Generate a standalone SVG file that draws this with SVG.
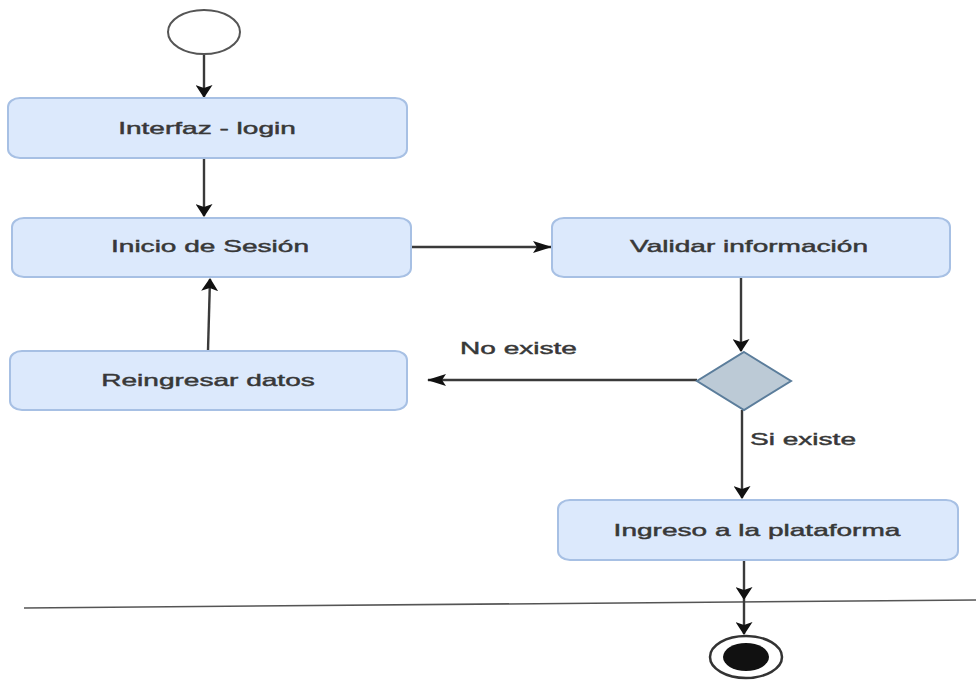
<svg xmlns="http://www.w3.org/2000/svg" width="976" height="680" viewBox="0 0 976 680">
  <style>
    .act { fill: #dce9fc; stroke: #a7c0e4; stroke-width: 2; }
    .lbl { font-family: "Liberation Sans", Arial, sans-serif; font-size: 17px; fill: #383838; stroke: #383838; stroke-width: 0.45; text-anchor: middle; }
    .edge-lbl { font-family: "Liberation Sans", Arial, sans-serif; font-size: 17px; fill: #383838; stroke: #383838; stroke-width: 0.45; }
    .flow { fill: none; stroke: #3a3a3a; stroke-width: 2.4; }
  </style>
  <defs>
    <marker id="arrV" markerUnits="userSpaceOnUse" viewBox="0 0 13 17" markerWidth="13" markerHeight="17" refX="12" refY="8.5" orient="auto">
      <path d="M0,0 L13,8.5 L0,17 L3,8.5 z" fill="#111"/>
    </marker>
    <marker id="arrH" markerUnits="userSpaceOnUse" viewBox="0 0 19 12" markerWidth="19" markerHeight="12" refX="18" refY="6" orient="auto">
      <path d="M0,0 L19,6 L0,12 L4,6 z" fill="#111"/>
    </marker>
  </defs>

  <rect width="976" height="680" fill="#ffffff"/>

  <!-- separator rule -->
  <line x1="24" y1="608" x2="976" y2="600" stroke="#555" stroke-width="1.6"/>

  <!-- connectors -->
  <g id="connectors">
    <path class="flow" d="M204,55 L204,97" marker-end="url(#arrV)"/>
    <path class="flow" d="M204,159 L204,216" marker-end="url(#arrV)"/>
    <path class="flow" d="M412,247 L551,247" marker-end="url(#arrH)"/>
    <path class="flow" d="M741,278 L741,351" marker-end="url(#arrV)"/>
    <path class="flow" d="M697,380 L428,380" marker-end="url(#arrH)"/>
    <path class="flow" d="M208,350 L210,279" marker-end="url(#arrV)"/>
    <path class="flow" d="M742,410 L742,498" marker-end="url(#arrV)"/>
    <path class="flow" d="M744,561 L744,599" marker-end="url(#arrV)"/>
    <path class="flow" d="M744,599 L744,634" marker-end="url(#arrV)"/>
    <text class="edge-lbl" transform="matrix(1.65 0 0 1 460 354)">No existe</text>
    <text class="edge-lbl" transform="matrix(1.65 0 0 1 750 445)">Si existe</text>
  </g>

  <!-- start node -->
  <g id="start">
    <ellipse cx="204" cy="32" rx="36" ry="22" fill="#fff" stroke="#555" stroke-width="2"/>
  </g>

  <g id="interfaz-login">
    <rect class="act" x="8" y="98" width="399" height="60" rx="12" ry="9"/>
    <text class="lbl" transform="matrix(1.65 0 0 1 207 134)">Interfaz - login</text>
  </g>

  <g id="inicio-sesion">
    <rect class="act" x="12" y="218" width="399" height="59" rx="12" ry="9"/>
    <text class="lbl" transform="matrix(1.65 0 0 1 210 252)">Inicio de Sesión</text>
  </g>

  <g id="validar-informacion">
    <rect class="act" x="552" y="218" width="398" height="59" rx="12" ry="9"/>
    <text class="lbl" transform="matrix(1.65 0 0 1 749 252)">Validar información</text>
  </g>

  <g id="reingresar-datos">
    <rect class="act" x="10" y="351" width="397" height="59" rx="12" ry="9"/>
    <text class="lbl" transform="matrix(1.65 0 0 1 208 386)">Reingresar datos</text>
  </g>

  <g id="decision">
    <polygon points="744,352 791,381 744,410 697,381" fill="#bccad6" stroke="#5b7d9b" stroke-width="2"/>
  </g>

  <g id="ingreso-plataforma">
    <rect class="act" x="558" y="500" width="400" height="60" rx="12" ry="9"/>
    <text class="lbl" transform="matrix(1.65 0 0 1 757 536)">Ingreso a la plataforma</text>
  </g>

  <!-- final node -->
  <g id="end">
    <ellipse cx="746" cy="657" rx="36" ry="21" fill="#fff" stroke="#333" stroke-width="2.5"/>
    <ellipse cx="746" cy="657" rx="23" ry="14" fill="#111"/>
  </g>
</svg>
